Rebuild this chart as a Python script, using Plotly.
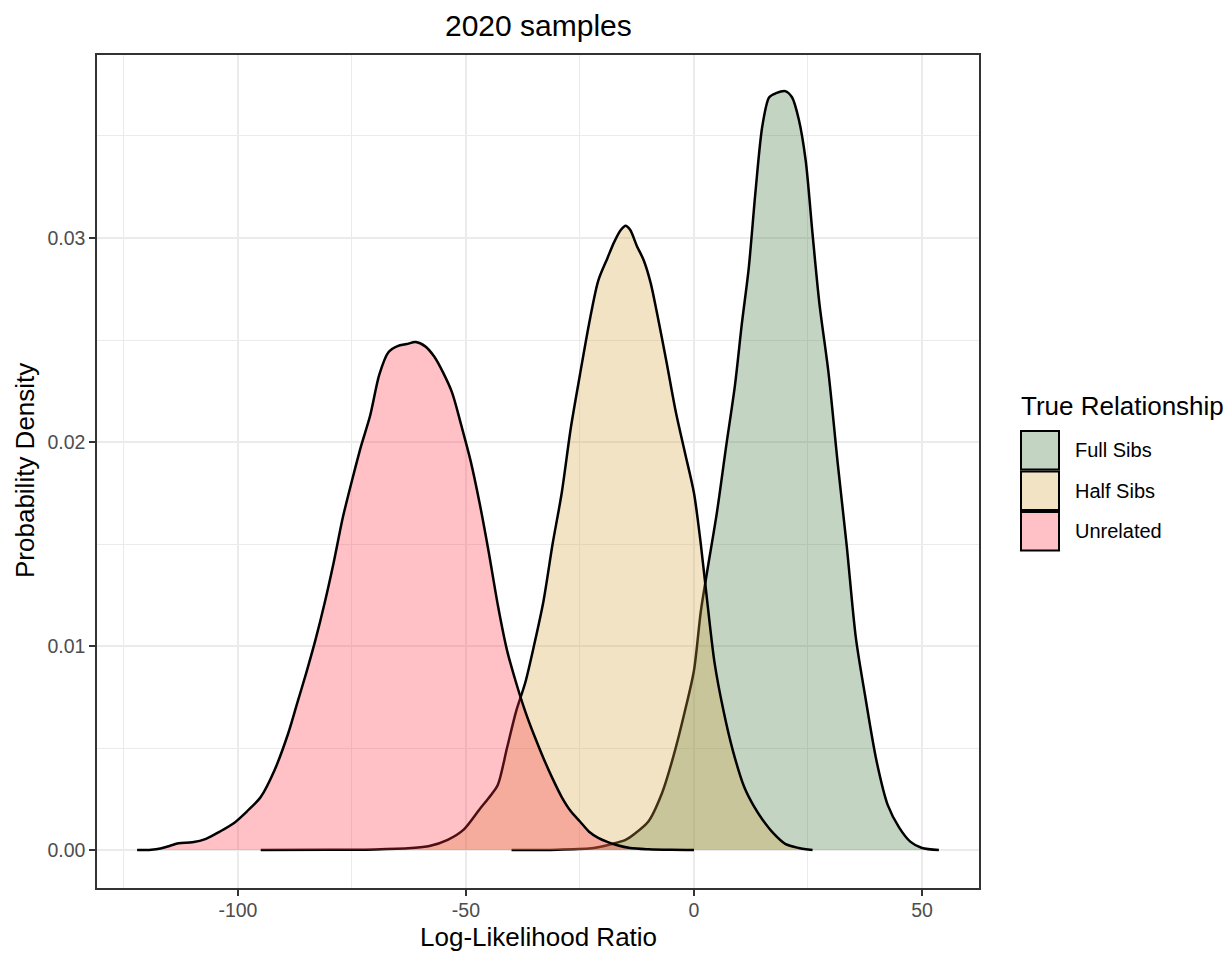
import plotly.graph_objects as go

# ---------------- data ----------------
series_names = ["Full Sibs", "Half Sibs", "Unrelated"]

fs_x = [-40, -30, -22, -18, -15, -13, -10, -7, -4.5, -2, 0, 1.5, 3, 5, 7, 9, 10.5, 12,
        13.5, 15, 16.5, 18, 20, 21.5, 23, 24.5, 26, 27.5, 29.5, 31.5, 33.5, 35.5, 37.5,
        40, 42.5, 45, 47.5, 50, 53.7]
fs_y = [0, 0.00002, 0.0001, 0.0003, 0.0005, 0.0008, 0.0014, 0.0028, 0.0046, 0.0068,
        0.0088, 0.0117, 0.0138, 0.0165, 0.0197, 0.0228, 0.0258, 0.0285, 0.0323, 0.0355,
        0.0369, 0.0371, 0.0372, 0.0369, 0.0358, 0.0338, 0.0302, 0.0268, 0.0234, 0.0190,
        0.0149, 0.0104, 0.0076, 0.0044, 0.0022, 0.0011, 0.0004, 0.0001, 0]

hs_x = [-95, -80, -70, -62, -58, -54, -50.5, -47, -44.5, -43, -41, -39, -37, -35, -33,
        -31, -29, -27, -25, -23, -21, -19, -17.5, -16, -15, -14, -12.5, -11, -9.5, -8,
        -6, -4, -2, 0, 1.5, 3, 4.5, 6.5, 8.5, 11, 13, 15, 17.5, 20, 23, 26]
hs_y = [0, 0.00001, 0.00003, 0.0001, 0.0002, 0.0005, 0.001, 0.0020, 0.0027, 0.0032,
        0.0050, 0.0068, 0.0082, 0.0101, 0.0122, 0.0150, 0.0175, 0.0207, 0.0233, 0.0258,
        0.0279, 0.0290, 0.0298, 0.0304, 0.0306, 0.0304, 0.0296, 0.0289, 0.0278, 0.0262,
        0.0239, 0.0215, 0.0195, 0.0175, 0.0150, 0.0120, 0.0092, 0.0068, 0.0049, 0.0031,
        0.0022, 0.0015, 0.0008, 0.0003, 0.0001, 0]

ur_x = [-122.1, -119, -117, -115, -113, -110, -107, -104, -101, -98, -95, -92, -89, -87,
        -85, -83, -81, -79, -77, -75, -73, -71, -69, -67, -65, -63, -61, -59, -57, -55,
        -53, -51, -49, -47, -45, -43, -41, -39, -37, -35, -33, -31, -29, -27, -25, -23,
        -21, -19, -17, -14, -10, -5, 0]
ur_y = [0, 0.00002, 0.00008, 0.0002, 0.00033, 0.00038, 0.00055, 0.0009, 0.0013, 0.0019,
        0.0026, 0.0039, 0.0057, 0.0072, 0.0087, 0.0103, 0.0121, 0.0141, 0.0163, 0.0181,
        0.0198, 0.0213, 0.0233, 0.0244, 0.0247, 0.0248, 0.0249, 0.0247, 0.0242, 0.0234,
        0.0224, 0.0208, 0.0191, 0.0170, 0.0146, 0.0120, 0.0098, 0.0082, 0.0068, 0.0056,
        0.0045, 0.0035, 0.0026, 0.0019, 0.0014, 0.0009, 0.0006, 0.0004, 0.00025, 0.0001,
        0.00004, 0.00001, 0]

x_ticks = [-100, -50, 0, 50]
y_ticks = [0.00, 0.01, 0.02, 0.03]

# ---------------- styling ----------------
FONT = "Liberation Sans, Arial, Helvetica, sans-serif"
fills = {
    "Full Sibs": "rgba(55,115,52,0.3)",
    "Half Sibs": "rgba(212,162,62,0.3)",
    "Unrelated": "rgba(255,45,65,0.3)",
}
data = {
    "Full Sibs": (fs_x, fs_y),
    "Half Sibs": (hs_x, hs_y),
    "Unrelated": (ur_x, ur_y),
}

# plot area in pixels
W, H = 1225, 953
L, R, T, B = 97, 979, 55, 888


def px(xp):
    return (xp - L) / (R - L)


def py(yp):
    return (B - yp) / (B - T)


fig = go.Figure()
for name in series_names:
    xs, ys = data[name]
    fig.add_trace(go.Scatter(
        x=xs, y=ys, name=name, mode="lines",
        line=dict(color="black", width=2.5, shape="spline", smoothing=0.8),
        fill="tozeroy", fillcolor=fills[name], showlegend=False,
        hoverinfo="x+y+name",
    ))

axis_common = dict(
    showline=True, mirror=True, linecolor="#333333", linewidth=1.5,
    ticks="outside", ticklen=6, tickwidth=1.5, tickcolor="#333333",
    showgrid=True, gridcolor="#EBEBEB", gridwidth=2, zeroline=False,
    tickfont=dict(family=FONT, size=19.5, color="#4D4D4D"),
)

fig.update_layout(
    width=W, height=H,
    margin=dict(l=L, r=W - R, t=T, b=H - B),
    plot_bgcolor="white", paper_bgcolor="white",
    showlegend=False,
    xaxis=dict(range=[-130.9, 62.5], tickvals=x_ticks,
               ticktext=[str(v) for v in x_ticks], ticklabelstandoff=-2,
               minor=dict(dtick=25, tick0=0, showgrid=True, gridcolor="#EBEBEB",
                          gridwidth=1.2, ticks=""),
               **axis_common),
    yaxis=dict(range=[-0.00186, 0.03897], tickvals=y_ticks,
               ticktext=[f"{v:.2f}" for v in y_ticks],
               minor=dict(dtick=0.005, tick0=0, showgrid=True, gridcolor="#EBEBEB",
                          gridwidth=1.2, ticks=""),
               **axis_common),
)

annotations = [
    dict(text="2020 samples", x=px(538), y=py(25), xref="paper", yref="paper",
         xanchor="center", yanchor="middle", showarrow=False,
         font=dict(family=FONT, size=30, color="black")),
    dict(text="Log-Likelihood Ratio", x=px(538), y=py(937), xref="paper", yref="paper",
         xanchor="center", yanchor="middle", showarrow=False,
         font=dict(family=FONT, size=26, color="black")),
    dict(text="Probability Density", x=px(25), y=py(471), xref="paper", yref="paper",
         xanchor="center", yanchor="middle", showarrow=False, textangle=-90,
         font=dict(family=FONT, size=26, color="black")),
    dict(text="True Relationship", x=px(1019), y=py(406), xref="paper", yref="paper",
         xanchor="left", yanchor="middle", showarrow=False,
         font=dict(family=FONT, size=26, color="black")),
]

shapes = []
key_top = 431
key_size = 38.5
for i, name in enumerate(series_names):
    y0 = key_top + i * 40.5
    y1 = y0 + key_size
    shapes.append(dict(type="rect", xref="paper", yref="paper",
                       x0=px(1021), x1=px(1059), y0=py(y1), y1=py(y0),
                       fillcolor="white", line=dict(width=0), layer="above"))
    shapes.append(dict(type="rect", xref="paper", yref="paper",
                       x0=px(1021), x1=px(1059), y0=py(y1), y1=py(y0),
                       fillcolor=fills[name], line=dict(color="black", width=2),
                       layer="above"))
    annotations.append(dict(text=name, x=px(1073), y=py((y0 + y1) / 2),
                            xref="paper", yref="paper", xanchor="left",
                            yanchor="middle", showarrow=False,
                            font=dict(family=FONT, size=20, color="black")))

fig.update_layout(annotations=annotations, shapes=shapes)

fig.write_html("out.html")
